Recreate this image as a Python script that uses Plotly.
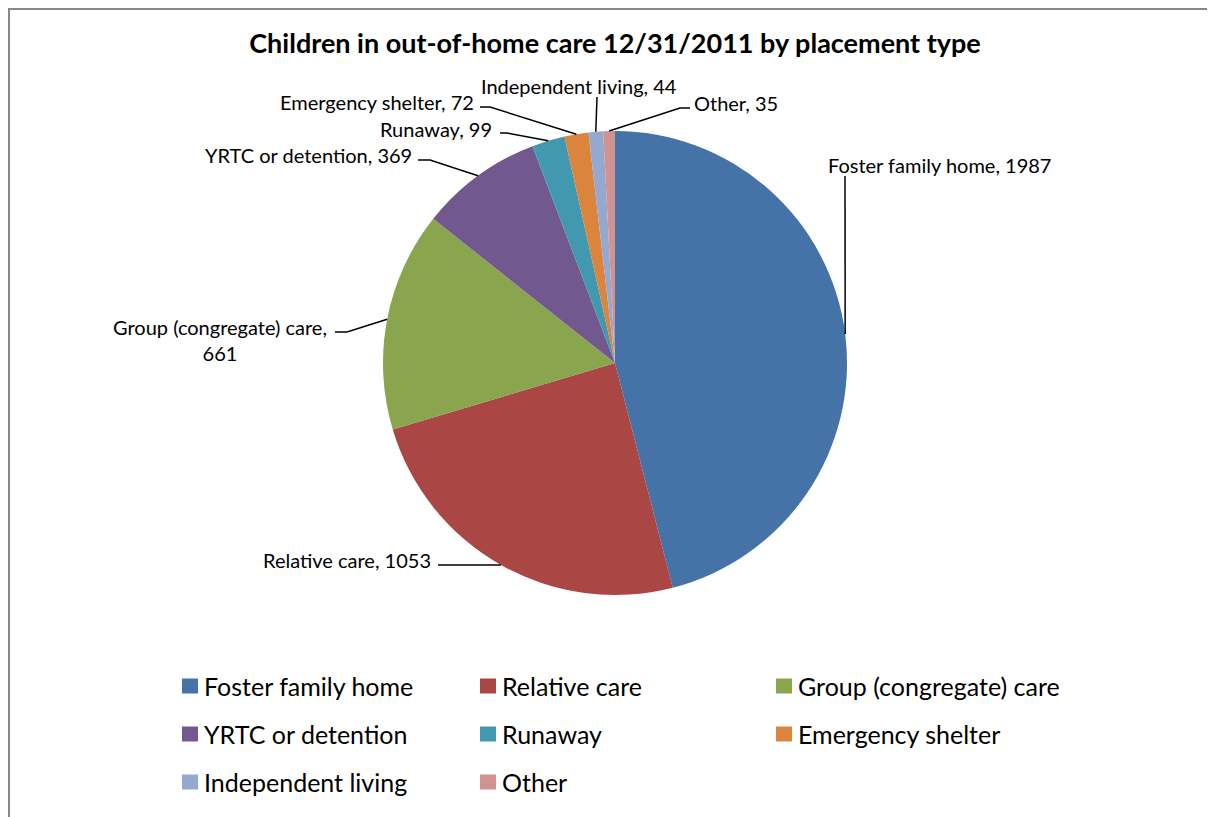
import numpy as np
import plotly.graph_objects as go

categories = ['Foster family home', 'Relative care', 'Group (congregate) care',
              'YRTC or detention', 'Runaway', 'Emergency shelter',
              'Independent living', 'Other']
counts = [1987, 1053, 661, 369, 99, 72, 44, 35]
colors = ['#4572A7', '#AA4643', '#89A54E', '#71588F',
          '#4198AF', '#DB843D', '#93A9CF', '#D19392']

# the page body adds an 8px margin, so the figure is a bit smaller than the window
OFF = 8
W, H = 1215 - OFF, 817 - OFF
CX, CY, R = 615, 363, 232   # pie centre / radius in screen px
FONT = 'Lato'


def px(x):
    return (x - OFF) / W


def py(y):
    return 1 - (y - OFF) / H


# label layout in px: text x, text y, xanchor, line start, elbow
label_layout = [
    (826, 165, 'left', (845, 176), (845, 176)),
    (433, 560, 'right', (438, 565), (438, 565)),
    (329, 340, 'right', (335, 332), (347, 332)),
    (414, 155, 'right', (418, 160), (430, 160)),
    (494, 129, 'right', (500, 133), (507, 133)),
    (476, 102, 'right', (480, 107), (490, 107)),
    (579, 86, 'center', (597, 97), (597, 97)),
    (692, 103, 'left', (690, 108), (680, 108)),
]

# legend grid (px)
leg_cols = [182, 480, 776]
leg_rows = [686, 734, 782]

fig = go.Figure(go.Pie(
    labels=categories, values=counts, sort=False,
    direction='clockwise', rotation=0,
    marker=dict(colors=colors, line=dict(width=0)),
    textinfo='none', hoverinfo='label+value+percent',
    domain=dict(x=[px(CX - R), px(CX + R)], y=[py(CY + R), py(CY - R)]),
))

# slice mid angles -> point on the rim for the leader lines
vals = np.array(counts, dtype=float)
frac = vals / vals.sum()
mid = (np.cumsum(frac) - frac / 2) * 2 * np.pi

annotations = []
shapes = []
for i, (cat, v) in enumerate(zip(categories, counts)):
    tx, ty, anchor, start, elbow = label_layout[i]
    rim_x = CX + R * np.sin(mid[i])
    rim_y = CY - R * np.cos(mid[i])
    text = f'{cat}, {v}'
    if cat.startswith('Group'):
        text = f'{cat},<br>{v}'
    annotations.append(dict(
        x=px(tx), y=py(ty), xref='paper', yref='paper', text=text,
        showarrow=False, xanchor=anchor, yanchor='middle', align='center',
        font=dict(family=FONT, size=20, color='#000000')))
    path = (f'M {px(start[0])},{py(start[1])} L {px(elbow[0])},{py(elbow[1])} '
            f'L {px(rim_x)},{py(rim_y)}')
    shapes.append(dict(type='path', path=path, xref='paper', yref='paper',
                       line=dict(color='#000000', width=1.5)))

# legend: colour square + name, three per row
for i, (cat, col) in enumerate(zip(categories, colors)):
    x0 = leg_cols[i % 3]
    yc = leg_rows[i // 3]
    shapes.append(dict(type='rect', xref='paper', yref='paper',
                       x0=px(x0), x1=px(x0 + 16), y0=py(yc + 7.5), y1=py(yc - 7.5),
                       fillcolor=col, line=dict(width=0)))
    annotations.append(dict(
        x=px(x0 + 20), y=py(yc), xref='paper', yref='paper', text=cat,
        showarrow=False, xanchor='left', yanchor='middle',
        font=dict(family=FONT, size=25, color='#000000')))

# chart area border (left and top edges visible)
shapes.append(dict(type='rect', xref='paper', yref='paper',
                   x0=px(OFF + 1), x1=px(1240), y0=py(840), y1=py(OFF + 1),
                   line=dict(color='#878787', width=2)))

fig.update_layout(
    width=W, height=H,
    margin=dict(l=0, r=0, t=0, b=0),
    paper_bgcolor='white', plot_bgcolor='white',
    font=dict(family=FONT, color='#000000'),
    title=dict(text='<b>Children in out-of-home care 12/31/2011 by placement type</b>',
               x=px(615), xanchor='center', y=py(44), yanchor='middle',
               font=dict(family=FONT, size=27, color='#000000')),
    showlegend=False,
    annotations=annotations,
    shapes=shapes,
)

fig.write_html('out.html')
